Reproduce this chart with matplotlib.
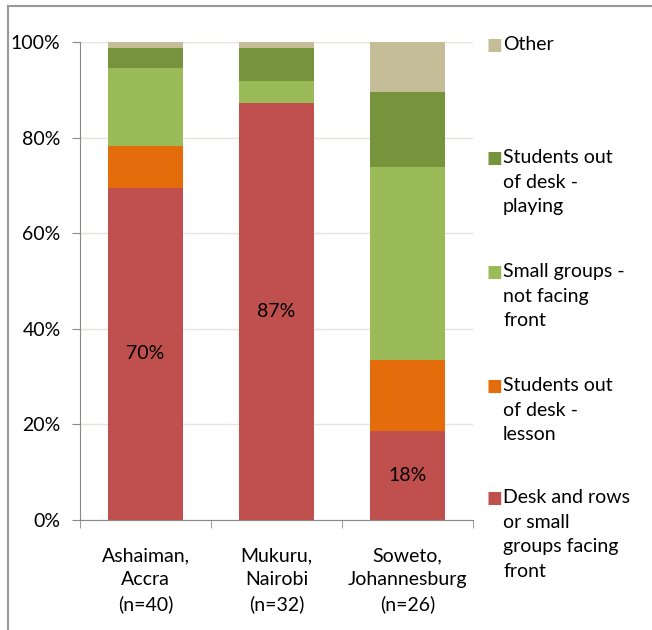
import matplotlib.pyplot as plt
import numpy as np
from matplotlib.lines import Line2D

plt.rcParams['font.family'] = ['Lato', 'DejaVu Sans']

categories = ['Ashaiman,\nAccra\n(n=40)', 'Mukuru,\nNairobi\n(n=32)', 'Soweto,\nJohannesburg\n(n=26)']
desk_rows = [69.5, 87.2, 18.6]
out_lesson = [8.7, 0.0, 14.9]
small_groups = [16.4, 4.6, 40.3]
out_playing = [4.1, 6.9, 15.7]
other = [1.3, 1.3, 10.5]
labels = ['70%', '87%', '18%']

series = [
    ('Desk and rows\nor small\ngroups facing\nfront', desk_rows, '#c0504d'),
    ('Students out\nof desk -\nlesson', out_lesson, '#e46c0a'),
    ('Small groups -\nnot facing\nfront', small_groups, '#9bbb59'),
    ('Students out\nof desk -\nplaying', out_playing, '#77933c'),
    ('Other', other, '#c4bd97'),
]

fs = 14
fig = plt.figure(figsize=(6.52, 6.30), dpi=100)
ax = fig.add_axes([80 / 652, 110 / 630, 393 / 652, 478 / 630])

x = np.arange(len(categories))
bottom = np.zeros(len(categories))
handles = []
for name, vals, col in series:
    ax.bar(x, vals, 0.57, bottom=bottom, color=col, edgecolor='none', zorder=2)
    bottom += np.array(vals)
    handles.append((name, col))

for i, lab in enumerate(labels):
    ax.text(x[i], desk_rows[i] / 2, lab, ha='center', va='center', fontsize=fs, zorder=3)

ax.set_xlim(-0.5, 2.5)
ax.set_ylim(0, 100)
ax.set_yticks(range(0, 101, 20))
ax.set_yticklabels([f'{v}%' for v in range(0, 101, 20)], fontsize=fs)
ax.yaxis.grid(True, color='#e6e4dc', linewidth=1, zorder=0)
ax.set_xticks(x)
ax.set_xticklabels(categories, fontsize=fs, linespacing=1.45)
ax.set_xticks([-0.5, 0.5, 1.5, 2.5], minor=True)
ax.tick_params(axis='x', which='major', length=0, pad=20)
ax.tick_params(axis='x', which='minor', length=6, color='#888888', direction='out')
ax.tick_params(axis='y', length=6, color='#888888', pad=8)
for s in ['top', 'right']:
    ax.spines[s].set_visible(False)
for s in ['left', 'bottom']:
    ax.spines[s].set_color('#888888')

# legend entries, top to bottom
leg_y = [45, 158, 272, 386, 498]
for (name, col), yy in zip(reversed(handles), leg_y):
    fig.text(486 / 652, 1 - yy / 630, '\u25A0', color=col, fontsize=12, va='center', ha='left')
    fig.text(503 / 652, 1 - (yy - 9) / 630, name, fontsize=fs, va='top', ha='left', linespacing=1.55)

# chart border lines (top and left)
fig.add_artist(Line2D([8 / 652, 1], [1 - 6 / 630, 1 - 6 / 630], color='#999999', lw=1.5))
fig.add_artist(Line2D([8 / 652, 8 / 652], [0, 1 - 6 / 630], color='#999999', lw=1.5))

fig.savefig('out.png', dpi=100)
